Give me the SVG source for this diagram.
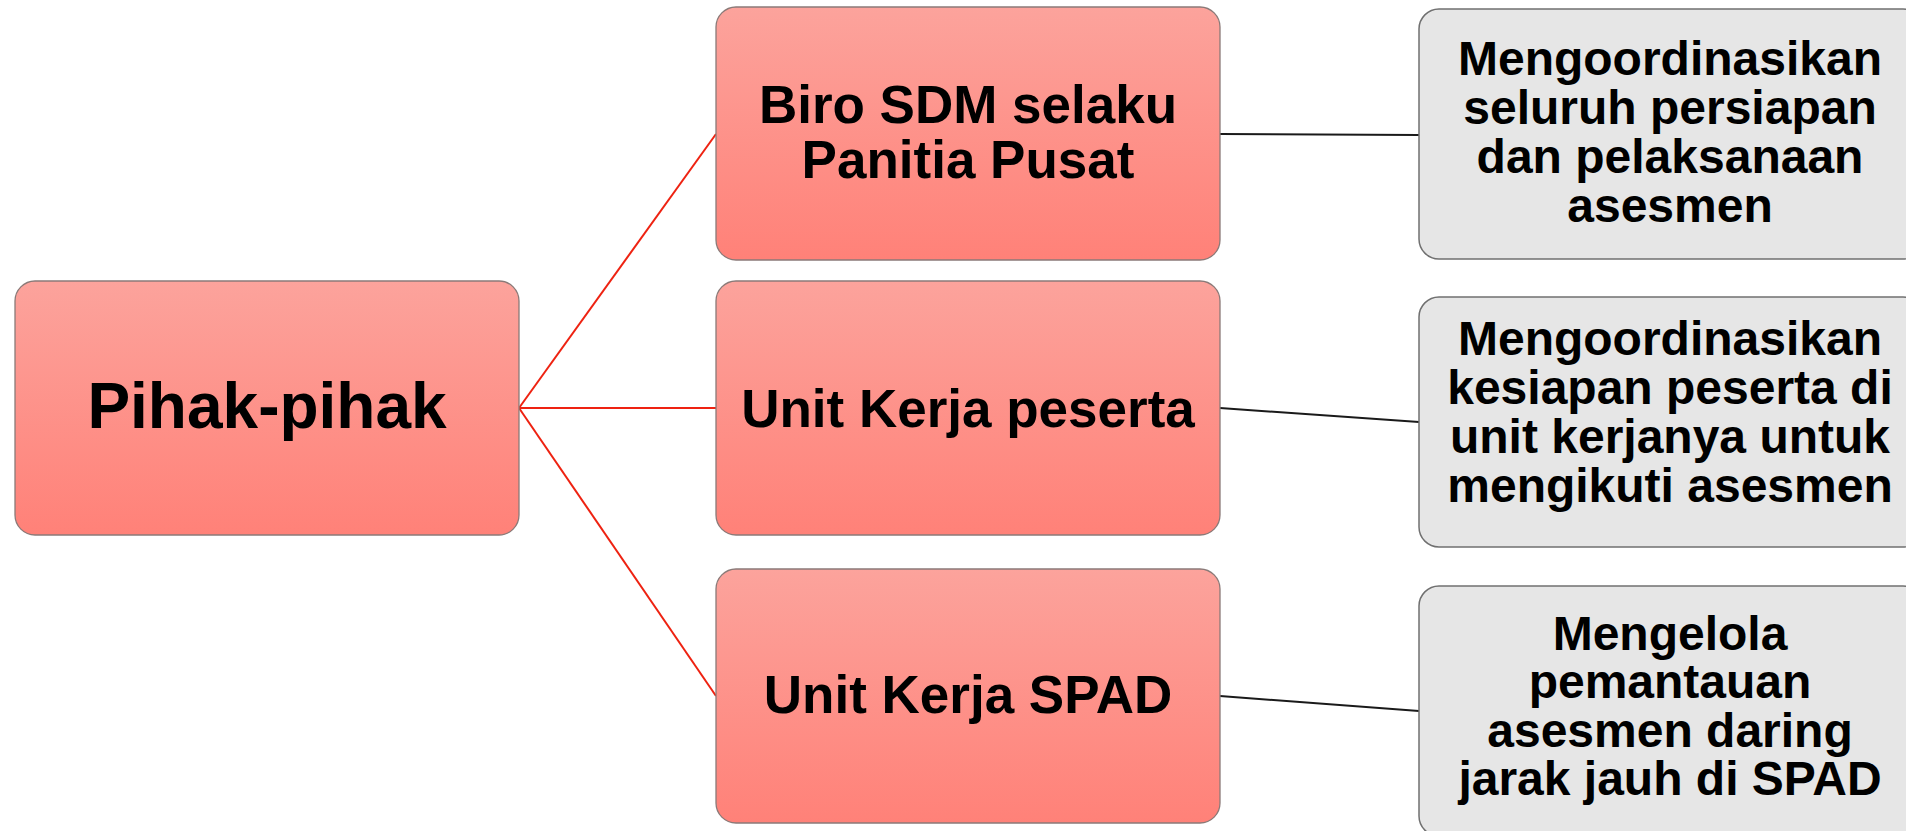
<svg xmlns="http://www.w3.org/2000/svg" width="1906" height="831" viewBox="0 0 1906 831">
<defs>
<linearGradient id="redg" x1="0" y1="0" x2="0" y2="1">
<stop offset="0" stop-color="#FCA39C"/>
<stop offset="1" stop-color="#FF8178"/>
</linearGradient>
<style>
.red{fill:url(#redg);stroke:#8a7a78;stroke-width:1.3}
.gray{fill:#E6E6E6;stroke:#707070;stroke-width:1.5}
.t{font-family:"Liberation Sans",Arial,sans-serif;font-weight:bold;fill:#000;text-anchor:middle}
.rl{stroke:#EE2211;stroke-width:2;fill:none}
.bl{stroke:#1a1a1a;stroke-width:2;fill:none}
</style>
</defs>
<rect width="1906" height="831" fill="#fff"/>
<g id="connectors">
<line class="rl" x1="519" y1="408" x2="716" y2="134"/>
<line class="rl" x1="519" y1="408" x2="716" y2="408"/>
<line class="rl" x1="519" y1="408" x2="716" y2="696"/>
<line class="bl" x1="1220" y1="134" x2="1419" y2="135"/>
<line class="bl" x1="1220" y1="408" x2="1419" y2="422"/>
<line class="bl" x1="1220" y1="696" x2="1419" y2="711"/>
</g>
<g id="root">
<rect class="red" x="15" y="281" width="504" height="254" rx="20"/>
<text class="t" x="267" y="428" font-size="64">Pihak-pihak</text>
</g>
<g id="biro">
<rect class="red" x="716" y="7" width="504" height="253" rx="20"/>
<text class="t" x="968" y="123" font-size="53">Biro SDM selaku</text>
<text class="t" x="968" y="178" font-size="53">Panitia Pusat</text>
</g>
<g id="unit-peserta">
<rect class="red" x="716" y="281" width="504" height="254" rx="20"/>
<text class="t" x="968" y="427" font-size="53">Unit Kerja peserta</text>
</g>
<g id="unit-spad">
<rect class="red" x="716" y="569" width="504" height="254" rx="20"/>
<text class="t" x="968" y="713" font-size="53">Unit Kerja SPAD</text>
</g>
<g id="desc1">
<rect class="gray" x="1419" y="9" width="504" height="250" rx="20"/>
<text class="t" x="1670" y="75" font-size="48">Mengoordinasikan</text>
<text class="t" x="1670" y="124" font-size="48">seluruh persiapan</text>
<text class="t" x="1670" y="173" font-size="48">dan pelaksanaan</text>
<text class="t" x="1670" y="222" font-size="48">asesmen</text>
</g>
<g id="desc2">
<rect class="gray" x="1419" y="297" width="504" height="250" rx="20"/>
<text class="t" x="1670" y="355" font-size="48">Mengoordinasikan</text>
<text class="t" x="1670" y="404" font-size="48">kesiapan peserta di</text>
<text class="t" x="1670" y="453" font-size="48">unit kerjanya untuk</text>
<text class="t" x="1670" y="502" font-size="48">mengikuti asesmen</text>
</g>
<g id="desc3">
<rect class="gray" x="1419" y="586" width="504" height="250" rx="20"/>
<text class="t" x="1670" y="650" font-size="48">Mengelola</text>
<text class="t" x="1670" y="698" font-size="48">pemantauan</text>
<text class="t" x="1670" y="747" font-size="48">asesmen daring</text>
<text class="t" x="1670" y="795" font-size="48">jarak jauh di SPAD</text>
</g>
</svg>
